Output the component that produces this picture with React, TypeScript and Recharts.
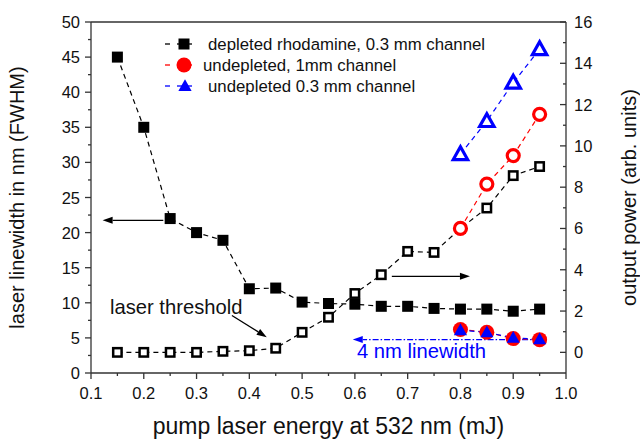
import React from "react";
import {
  ComposedChart,
  Line,
  XAxis,
  YAxis,
  ReferenceLine,
  ReferenceDot,
  Legend,
} from "recharts";

// pump energy (mJ)
const energy = [0.15, 0.2, 0.25, 0.3, 0.35, 0.4, 0.45, 0.5, 0.55, 0.6, 0.65, 0.7, 0.75, 0.8, 0.85, 0.9, 0.95];
// depleted rhodamine, 0.3 mm channel
const linewidthDepleted = [45, 35, 22, 20, 18.9, 12, 12.1, 10.1, 9.9, 9.8, 9.5, 9.5, 9.2, 9.1, 9.1, 8.8, 9.1];
const powerDepleted = [0, 0, 0, 0, 0.05, 0.08, 0.2, 0.97, 1.7, 2.85, 3.76, 4.89, 4.84, 6.0, 6.99, 8.56, 9.0];

// undepleted measurements start at 0.8 mJ
const energyHigh = [0.8, 0.85, 0.9, 0.95];
const linewidth1mm = [6.2, 5.8, 4.9, 4.75];
const power1mm = [6.0, 8.15, 9.53, 11.53];
const linewidth03mm = [6.1, 5.8, 5.0, 4.8];
const power03mm = [9.6, 11.2, 13.06, 14.68];

const xTicks = [0.1, 0.15, 0.2, 0.25, 0.3, 0.35, 0.4, 0.45, 0.5, 0.55, 0.6, 0.65, 0.7, 0.75, 0.8, 0.85, 0.9, 0.95, 1.0];
const leftTicks = [0, 2.5, 5, 7.5, 10, 12.5, 15, 17.5, 20, 22.5, 25, 27.5, 30, 32.5, 35, 37.5, 40, 42.5, 45, 47.5, 50];
const rightTicks = [0, 1, 2, 3, 4, 5, 6, 7, 8, 9, 10, 11, 12, 13, 14, 15, 16];

const FONT = "'Liberation Sans', Arial, sans-serif";
const AXIS = "#333";
const RED = "#ff0000";
const BLUE = "#0000ff";

const depletedData = energy.map((x, i) => ({ x, lw: linewidthDepleted[i], p: powerDepleted[i] }));
const mm1Data = energyHigh.map((x, i) => ({ x, lw: linewidth1mm[i], p: power1mm[i] }));
const mm03Data = energyHigh.map((x, i) => ({ x, lw: linewidth03mm[i], p: power03mm[i] }));

const isWhole = (v: number, step: number) => Math.abs(v / step - Math.round(v / step)) < 1e-6;

const XTick = ({ x, y, payload }: any) => {
  const major = isWhole(payload.value, 0.1);
  return (
    <g>
      <line x1={x} y1={y} x2={x} y2={y + (major ? 6 : 3)} stroke={AXIS} strokeWidth={1.3} />
      {major && (
        <text x={x} y={y + 20} textAnchor="middle" dominantBaseline="central" fontSize={16.5} fill="#111" fontFamily={FONT}>
          {payload.value.toFixed(1)}
        </text>
      )}
    </g>
  );
};

const LeftTick = ({ x, y, payload }: any) => {
  const major = isWhole(payload.value, 5);
  return (
    <g>
      <line x1={x} y1={y} x2={x - (major ? 6 : 3)} y2={y} stroke={AXIS} strokeWidth={1.3} />
      {major && (
        <text x={x - 11} y={y} textAnchor="end" dominantBaseline="central" fontSize={16.5} fill="#111" fontFamily={FONT}>
          {payload.value}
        </text>
      )}
    </g>
  );
};

const RightTick = ({ x, y, payload }: any) => {
  const major = isWhole(payload.value, 2);
  return (
    <g>
      <line x1={x} y1={y} x2={x - (major ? 6 : 3)} y2={y} stroke={AXIS} strokeWidth={1.3} />
      {major && (
        <text x={x + 8} y={y} textAnchor="start" dominantBaseline="central" fontSize={16.5} fill="#111" fontFamily={FONT}>
          {payload.value}
        </text>
      )}
    </g>
  );
};

// markers
const filledSquare = (p: any) =>
  p.cx == null ? null : <rect key={`fs${p.index}`} x={p.cx - 5.5} y={p.cy - 5.5} width={11} height={11} fill="#000" />;
const openSquare = (p: any) =>
  p.cx == null ? null : (
    <rect key={`os${p.index}`} x={p.cx - 4.2} y={p.cy - 4.2} width={8.4} height={8.4} fill="#fff" stroke="#000" strokeWidth={2.5} />
  );
const filledCircle = (p: any) =>
  p.cx == null ? null : <circle key={`fc${p.index}`} cx={p.cx} cy={p.cy} r={7.5} fill={RED} />;
const openCircle = (p: any) =>
  p.cx == null ? null : <circle key={`oc${p.index}`} cx={p.cx} cy={p.cy} r={6} fill="#fff" stroke={RED} strokeWidth={3.2} />;
const triPoints = (cx: number, cy: number, s: number) =>
  `${cx},${cy - s * 0.62} ${cx + s * 0.6},${cy + s * 0.45} ${cx - s * 0.6},${cy + s * 0.45}`;
const filledTriangle = (p: any) =>
  p.cx == null ? null : <polygon key={`ft${p.index}`} points={triPoints(p.cx, p.cy, 11)} fill={BLUE} />;
const openTriangle = (p: any) =>
  p.cx == null ? null : (
    <polygon key={`ot${p.index}`} points={triPoints(p.cx, p.cy, 12)} fill="#fff" stroke={BLUE} strokeWidth={3.2} strokeLinejoin="miter" />
  );

// arrow drawn along a ReferenceLine segment, head at the second point
const arrow = (color: string, dash?: string) => (props: any) => {
  const { x1, y1, x2, y2 } = props;
  const a = Math.atan2(y2 - y1, x2 - x1);
  const L = 10;
  const W = 3.5;
  const bx = x2 - L * Math.cos(a);
  const by = y2 - L * Math.sin(a);
  const pts = `${x2},${y2} ${bx + W * Math.sin(a)},${by - W * Math.cos(a)} ${bx - W * Math.sin(a)},${by + W * Math.cos(a)}`;
  return (
    <g>
      <line x1={x1} y1={y1} x2={bx} y2={by} stroke={color} strokeWidth={1.3} strokeDasharray={dash} />
      <polygon points={pts} fill={color} />
    </g>
  );
};

const textShape = (label: string, color: string) => (props: any) => (
  <text x={props.cx} y={props.cy} dominantBaseline="central" fontSize={20.2} fill={color} fontFamily={FONT}>
    {label}
  </text>
);

const LegendBox = () => {
  const rows = [
    { y: 44, tx: 208, label: "depleted rhodamine, 0.3 mm channel", color: "#000", kind: "square" },
    { y: 65, tx: 203, label: "undepleted, 1mm channel", color: RED, kind: "circle" },
    { y: 86, tx: 208, label: "undepleted 0.3 mm channel", color: BLUE, kind: "triangle" },
  ];
  return (
    <svg width={640} height={110} style={{ display: "block" }}>
      {rows.map((r) => (
        <g key={r.label}>
          <line x1={165} y1={r.y} x2={170} y2={r.y} stroke={r.color} strokeWidth={1.3} />
          <line x1={177} y1={r.y} x2={192} y2={r.y} stroke={r.color} strokeWidth={1.3} />
          {r.kind === "square" && <rect x={178.5} y={r.y - 5.5} width={11} height={11} fill="#000" />}
          {r.kind === "circle" && <circle cx={184} cy={r.y} r={7.5} fill={RED} />}
          {r.kind === "triangle" && <polygon points={triPoints(185, r.y, 11)} fill={BLUE} />}
          <text x={r.tx} y={r.y} dominantBaseline="central" fontSize={16.8} fill="#111" fontFamily={FONT}>
            {r.label}
          </text>
        </g>
      ))}
    </svg>
  );
};

export default function App() {
  return (
    <div style={{ position: "absolute", left: 0, top: 0, width: 640, height: 443, background: "#fff" }}>
      <ComposedChart width={640} height={443} margin={{ top: 22, right: 0, bottom: 0, left: 0 }} style={{ fontFamily: FONT }}>
        <XAxis
          dataKey="x"
          type="number"
          domain={[0.1, 1.0]}
          ticks={xTicks}
          interval={0}
          allowDataOverflow
          height={70}
          tickSize={0}
          tickMargin={0}
          tick={<XTick />}
          stroke={AXIS}
          strokeWidth={1.3}
          label={{ value: "pump laser energy at 532 nm (mJ)", position: "insideBottom", offset: 9, fontSize: 23, fill: "#111", fontFamily: FONT }}
        />
        <YAxis
          yAxisId="left"
          type="number"
          domain={[0, 50]}
          ticks={leftTicks}
          interval={0}
          width={91}
          tickSize={0}
          tickMargin={0}
          tick={<LeftTick />}
          stroke={AXIS}
          strokeWidth={1.3}
          label={{ value: "laser linewidth in nm (FWHM)", angle: -90, position: "insideLeft", offset: 17, fontSize: 20, fill: "#111", fontFamily: FONT, style: { textAnchor: "middle" } }}
        />
        <YAxis
          yAxisId="right"
          orientation="right"
          type="number"
          domain={[-1, 16]}
          ticks={rightTicks}
          interval={0}
          width={74}
          tickSize={0}
          tickMargin={0}
          tick={<RightTick />}
          stroke={AXIS}
          strokeWidth={1.3}
          label={{ value: "output power (arb. units)", angle: -90, position: "insideRight", offset: 11, fontSize: 20, fill: "#111", fontFamily: FONT, style: { textAnchor: "middle" } }}
        />
        <ReferenceLine yAxisId="left" y={50} stroke={AXIS} strokeWidth={1.3} />

        <Legend
          layout="vertical"
          align="center"
          verticalAlign="middle"
          content={() => <LegendBox />}
          wrapperStyle={{ left: 0, top: 0, width: 640, height: 110, pointerEvents: "none" }}
        />

        {/* annotations */}
        <ReferenceLine yAxisId="left" segment={[{ x: 0.237, y: 21.75 }, { x: 0.122, y: 21.75 }]} shape={arrow("#000")} />
        <ReferenceLine yAxisId="right" segment={[{ x: 0.67, y: 3.68 }, { x: 0.818, y: 3.68 }]} shape={arrow("#000")} />
        <ReferenceLine yAxisId="left" segment={[{ x: 0.367, y: 8.2 }, { x: 0.433, y: 5.1 }]} shape={arrow("#000")} />
        <ReferenceLine yAxisId="left" segment={[{ x: 0.95, y: 4.76 }, { x: 0.596, y: 4.76 }]} shape={arrow(BLUE, "6 2 1.5 2")} />
        <ReferenceDot yAxisId="left" x={0.136} y={9.4} r={0} shape={textShape("laser threshold", "#111")} />
        <ReferenceDot yAxisId="left" x={0.604} y={3.2} r={0} shape={textShape("4 nm linewidth", BLUE)} />

        {/* depleted rhodamine */}
        <Line data={depletedData} dataKey="lw" yAxisId="left" stroke="#000" strokeWidth={1.2} strokeDasharray="5 4" dot={filledSquare} activeDot={false} isAnimationActive={false} />
        <Line data={depletedData} dataKey="p" yAxisId="right" stroke="#000" strokeWidth={1.2} strokeDasharray="5 4" dot={openSquare} activeDot={false} isAnimationActive={false} />

        {/* undepleted 1 mm */}
        <Line data={mm1Data} dataKey="lw" yAxisId="left" stroke={RED} strokeWidth={1.2} strokeDasharray="5 4" dot={filledCircle} activeDot={false} isAnimationActive={false} />
        <Line data={mm1Data} dataKey="p" yAxisId="right" stroke={RED} strokeWidth={1.2} strokeDasharray="5 4" dot={openCircle} activeDot={false} isAnimationActive={false} />

        {/* undepleted 0.3 mm */}
        <Line data={mm03Data} dataKey="lw" yAxisId="left" stroke={BLUE} strokeWidth={1.2} strokeDasharray="5 4" dot={filledTriangle} activeDot={false} isAnimationActive={false} />
        <Line data={mm03Data} dataKey="p" yAxisId="right" stroke={BLUE} strokeWidth={1.2} strokeDasharray="5 4" dot={openTriangle} activeDot={false} isAnimationActive={false} />
      </ComposedChart>
    </div>
  );
}
